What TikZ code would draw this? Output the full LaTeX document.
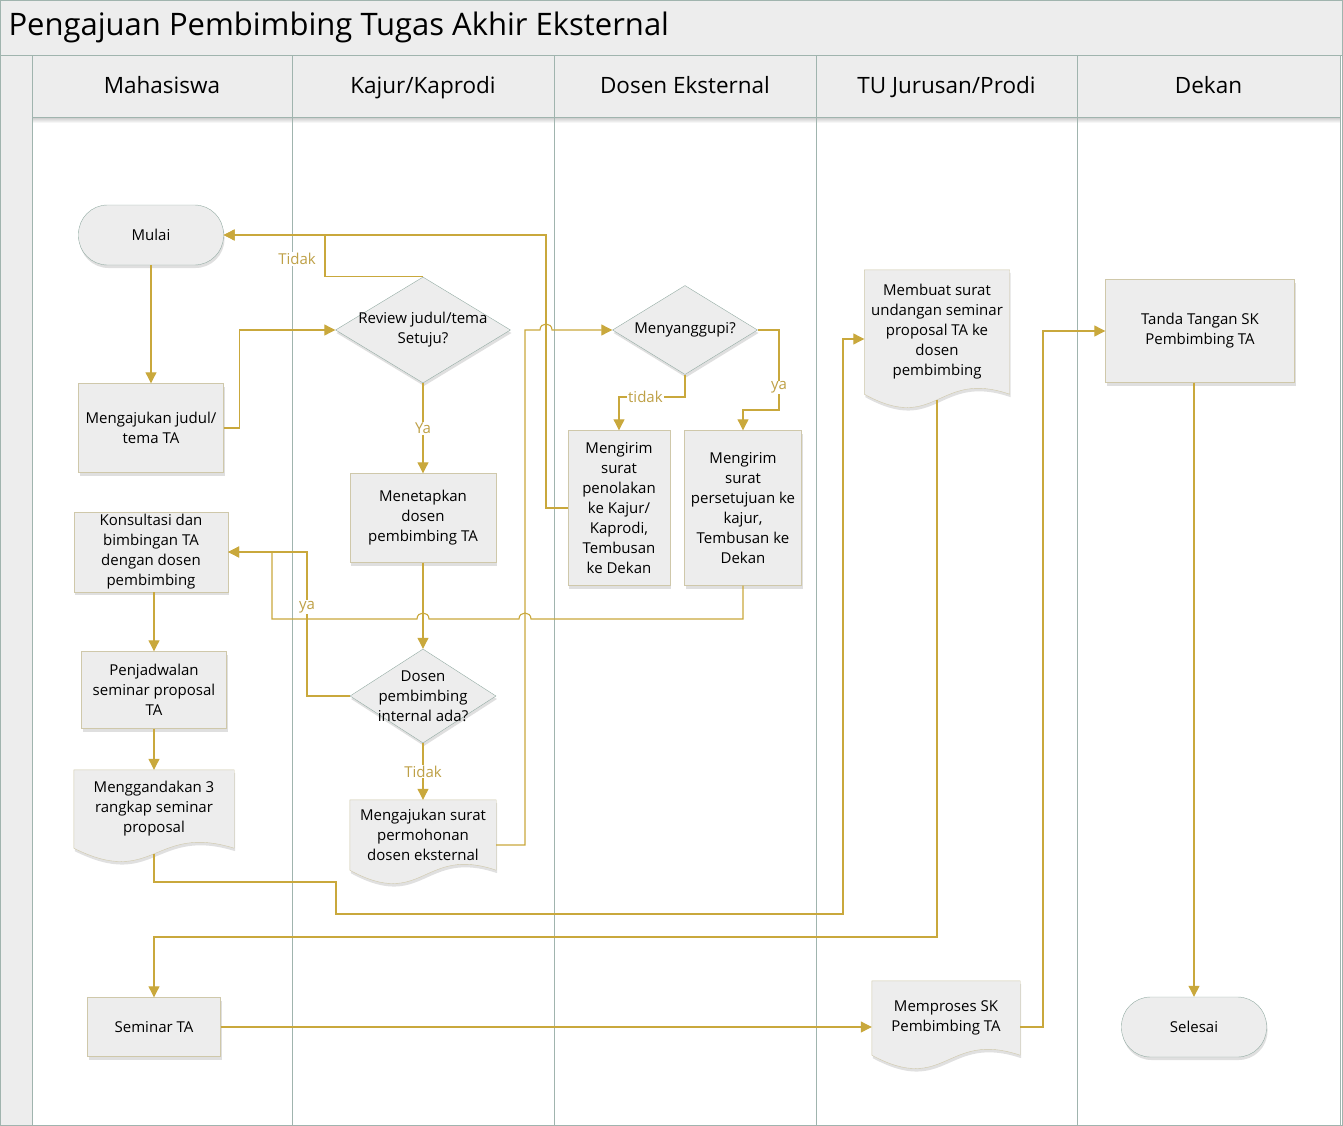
\documentclass[tikz,border=0pt]{standalone}
\usepackage{fontspec}
\setmainfont{Open Sans}
\usetikzlibrary{arrows.meta,shapes.geometric,shadows,calc}
\definecolor{flowc}{RGB}{201,168,60}
\definecolor{labc}{RGB}{190,160,70}
\definecolor{rectc}{RGB}{207,200,170}
\definecolor{termc}{RGB}{148,172,164}
\definecolor{boxc}{RGB}{237,237,237}
\definecolor{lanec}{RGB}{160,180,174}
\pgfdeclarelayer{bg}
\pgfsetlayers{bg,main}
\newcommand{\boxfont}{\fontsize{15}{20}\selectfont}

\begin{document}
\begin{tikzpicture}[x=1pt,y=-1pt]
    \tikzset{
        softshadow/.style={drop shadow={shadow xshift=1pt,shadow yshift=-3pt,fill=black!25}},
        proc/.style={draw=rectc,fill=boxc,softshadow,align=center,font=\boxfont,inner sep=1pt},
        term/.style={draw=termc,fill=boxc,softshadow,rounded corners=29pt,font=\boxfont,minimum width=145pt,minimum height=60pt},
        deci/.style={diamond,draw=termc,fill=boxc,softshadow,inner sep=0pt},
        dtext/.style={align=center,font=\boxfont},
        doc/.style={align=center,font=\boxfont,inner sep=0pt},
        flow/.style={draw=flowc,line width=1.1pt,-{Triangle[length=11pt,width=11pt]}},
        lbl/.style={text=labc,fill=white,font=\boxfont,inner sep=1pt},
        lanehead/.style={draw=lanec,fill=boxc,minimum height=62pt,text height=16pt,text depth=5pt,font=\fontsize{22.5}{26}\selectfont}
    }
    \useasboundingbox (0,0) rectangle (1343,1126);
    \fill[boxc] (0,0) rectangle (1343,55);
    \fill[boxc] (0,55) rectangle (32,1126);
    \draw[lanec] (0,55) -- (1343,55);
    \node[anchor=west,font=\fontsize{31}{34}\selectfont] (title) at (5,27) {Pengajuan Pembimbing Tugas Akhir Eksternal};
    \shade[top color=black!22,bottom color=white] (32,117) rectangle (1340,123);
    \foreach \a/\b/\t in {32/292/Mahasiswa,292/554/{Kajur/Kaprodi},554/816/{Dosen Eksternal},816/1077/{TU Jurusan/Prodi},1077/1340/Dekan}{
        \node[lanehead,minimum width=\b-\a] at ({(\a+\b)/2},86) {};
        \node[font=\fontsize{22.5}{26}\selectfont,text height=16pt,text depth=5pt] at ({(\a+\b)/2},88) {\t};
        \draw[lanec,line width=1pt] (\a,117) -- (\a,1126);
    }
    \draw[lanec,line width=1pt] (1340,117) -- (1340,1126);
    \draw[lanec] (0.5,0.5) rectangle (1342.5,1125.5);

    \node[term] (mulai) at (151,235) {Mulai};
    \node[proc,minimum width=145pt,minimum height=89pt] (judul) at (151,428) {Mengajukan judul/\\tema TA};
    \node[deci,minimum width=175pt,minimum height=106pt] (review) at (423,330) {};
    \node[dtext] at (review) {Review judul/tema\\Setuju?};
    \node[proc,minimum width=146pt,minimum height=89pt] (tetap) at (423,518) {Menetapkan\\dosen\\pembimbing TA};
    \node[deci,minimum width=146pt,minimum height=94pt] (intern) at (423,696) {};
    \node[dtext] at (intern) {Dosen\\pembimbing\\internal ada?};
    \node[doc,minimum width=146pt,minimum height=70pt] (mohon) at (423,835) {Mengajukan surat\\permohonan\\dosen eksternal};
    \node[deci,minimum width=145pt,minimum height=89pt] (sanggup) at (685,330) {};
    \node[dtext] at (sanggup) {Menyanggupi?};
    \node[proc,minimum width=102pt,minimum height=155pt] (tolak) at (619,508) {Mengirim\\surat\\penolakan\\ke Kajur/\\Kaprodi,\\Tembusan\\ke Dekan};
    \node[proc,minimum width=117pt,minimum height=155pt] (setuju) at (743,508) {Mengirim\\surat\\persetujuan ke\\kajur,\\Tembusan ke\\Dekan};
    \node[proc,minimum width=154pt,minimum height=80pt] (konsul) at (151,552) {Konsultasi dan\\bimbingan TA\\dengan dosen\\pembimbing};
    \node[proc,minimum width=145pt,minimum height=77pt] (jadwal) at (154,690) {Penjadwalan\\seminar proposal\\TA};
    \node[doc,minimum width=160pt,minimum height=78pt] (ganda) at (154,809) {Menggandakan 3\\rangkap seminar\\proposal};
    \node[doc,minimum width=145pt,minimum height=124pt] (undangan) at (937,332) {Membuat surat\\undangan seminar\\proposal TA ke\\dosen\\pembimbing};
    \node[proc,minimum width=189pt,minimum height=103pt] (ttd) at (1200,331) {Tanda Tangan SK\\Pembimbing TA};
    \node[proc,minimum width=133pt,minimum height=59pt] (seminar) at (154,1027) {Seminar TA};
    \node[doc,minimum width=148pt,minimum height=74pt] (proses) at (946,1018) {Memproses SK\\Pembimbing TA};
    \node[term] (selesai) at (1194,1027) {Selesai};

    \begin{pgfonlayer}{bg}
        \foreach \d in {mohon,ganda,undangan,proses}{
            \fill[black!12,transform canvas={shift={(1,3)}}] (\d.south west) -- (\d.north west) -- (\d.north east) -- (\d.south east) .. controls ($(\d.south)+(0,-25)$) and ($(\d.south)+(0,40)$) .. (\d.south west) -- cycle;
            \path[draw=rectc,fill=boxc] (\d.south west) -- (\d.north west) -- (\d.north east) -- (\d.south east) .. controls ($(\d.south)+(0,-25)$) and ($(\d.south)+(0,40)$) .. (\d.south west) -- cycle;
        }
    \end{pgfonlayer}

    \draw[flow] (mulai) -- (judul);
    \draw[flow] (judul.east) -- ++(16,0) |- (review.west);
    \draw[flow] (review.north) -| (325,235) -- (mulai.east);
    \node[lbl] (ltidak) at (297,259) {Tidak};
    \draw[flow] (review.south) -- node[lbl]{Ya} (tetap.north);
    \draw[flow] (tetap) -- (intern);
    \draw[flow] (intern.south) -- node[lbl]{Tidak} (mohon.north);
    \draw[flow] ([yshift=-10pt]mohon.east) -- (525,845) -- (525,330) -- (540,330) .. controls (540,322) and (552,322) .. (552,330) -- (sanggup.west);
    \draw[flow] (sanggup.south) -- (685,397) -| node[lbl,pos=0.3]{tidak} (tolak.north);
    \draw[flow] (sanggup.east) -- (779,330) -- node[lbl,pos=0.72]{ya} (779,410) -| (setuju.north);
    \draw[flow] (tolak.west) -- (546,508) |- (mulai.east);
    \draw[flow] (setuju.south) -- (743,619) -- (531,619) .. controls (531,611) and (519,611) .. (519,619) -- (429,619) .. controls (429,611) and (417,611) .. (417,619) -- (272,619) |- (konsul.east);
    \draw[flow] (intern.west) -- (307,696) -- (307,552) -- (konsul.east);
    \node[lbl] (lya) at (307,607) {ya};
    \draw[flow] (jadwal.north |- konsul.south) -- (jadwal.north);
    \draw[flow] (jadwal) -- (ganda);
    \draw[flow] ([yshift=-6pt]ganda.south) -- (154,882) -- (336,882) -- (336,914) -- (843,914) |- ([yshift=-7pt]undangan.west);
    \draw[flow] ([yshift=-6pt]undangan.south) -- (937,937) -| (seminar.north);
    \draw[flow] (seminar.east) -- (seminar.east -| proses.west);
    \draw[flow] (proses.east |- seminar.east) -- (1043,1027) |- (ttd.west);
    \draw[flow] (selesai.north |- ttd.south) -- (selesai.north);
\end{tikzpicture}
\end{document}
